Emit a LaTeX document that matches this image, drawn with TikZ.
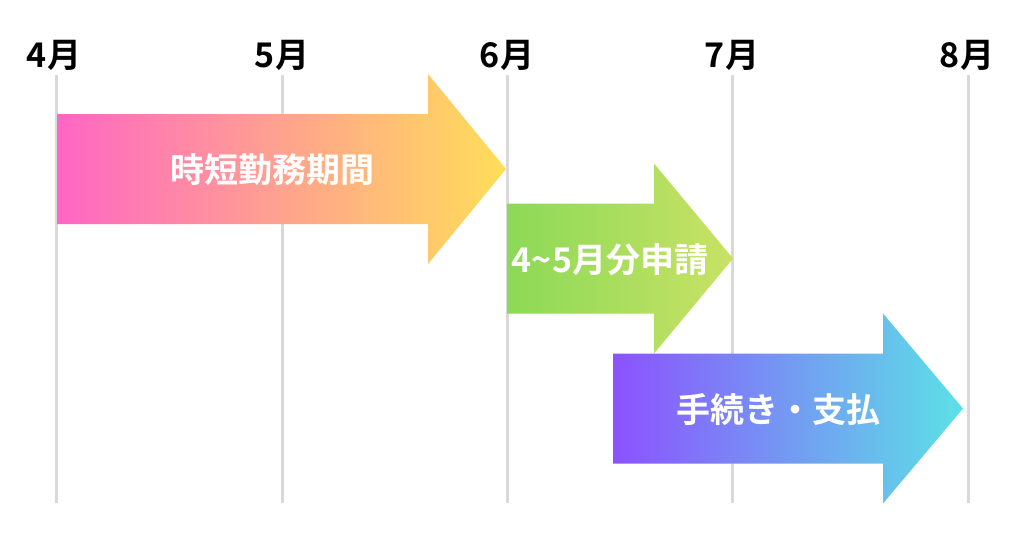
\documentclass[tikz,border=0pt]{standalone}
\usepackage{fontspec}
\newfontfamily\jpfont{Noto Sans CJK JP}[BoldFont={Noto Sans CJK JP Bold}]
\usepackage{xcolor}
\definecolor{GridGray}{HTML}{D9D9D9}
\definecolor{ShortPink}{HTML}{FF66C4}
\definecolor{ShortYellow}{HTML}{FFDE59}
\definecolor{ClaimGreen}{HTML}{8CD957}
\definecolor{ClaimLime}{HTML}{C9E265}
\definecolor{PayPurple}{HTML}{8C52FF}
\definecolor{PayCyan}{HTML}{5CE1E6}
\tikzset{
	month/.style={anchor=base,font=\jpfont\bfseries\fontsize{34}{39}\selectfont,text=black,inner sep=0pt},
	monthline/.style={GridGray,line width=3pt},
	phase/.style={font=\jpfont\bfseries\fontsize{34}{39}\selectfont,text=white,inner sep=0pt}
}

\begin{document}
\begin{tikzpicture}[x=1pt,y=-1pt]
		\useasboundingbox[fill=white] (0,0) rectangle (1024,538);
		\def\body{55} % half height of arrow body
		\def\head{95} % half height of arrow head
		
		% month grid
		\coordinate (apr) at (56,75);  \coordinate (aprb) at (56,503);
		\coordinate (may) at (282,75); \coordinate (mayb) at (282,503);
		\coordinate (jun) at (507,75); \coordinate (junb) at (507,503);
		\coordinate (jul) at (732,75); \coordinate (julb) at (732,503);
		\coordinate (aug) at (968,75); \coordinate (augb) at (968,503);
		\draw[monthline] (apr) -- (aprb);
		\draw[monthline] (may) -- (mayb);
		\draw[monthline] (jun) -- (junb);
		\draw[monthline] (jul) -- (julb);
		\draw[monthline] (aug) -- (augb);
		\node[month] (aprl) at (54,67) {4月};
		\node[month] (mayl) at (282,67) {5月};
		\node[month] (junl) at (507,67) {6月};
		\node[month] (jull) at (732,67) {7月};
		\node[month] (augl) at (967,67) {8月};
		
		% 時短勤務期間
		\shade[left color=ShortPink,right color=ShortYellow] (57,169-\body) -- (428,169-\body) -- (428,169-\head) -- (506,169) -- (428,169+\head) -- (428,169+\body) -- (57,169+\body) -- cycle;
		\node[phase] (short) at (272,170) {時短勤務期間};
		
		% 申請
		\shade[left color=ClaimGreen,right color=ClaimLime] (507,258.5-\body) -- (654,258.5-\body) -- (654,258.5-\head) -- (733,258.5) -- (654,258.5+\head) -- (654,258.5+\body) -- (507,258.5+\body) -- cycle;
		\node[phase] (claim) at (610,260) {4\string~5月分申請};
		
		% 支払
		\shade[left color=PayPurple,right color=PayCyan] (613,408.5-\body) -- (883,408.5-\body) -- (883,408.5-\head) -- (963,408.5) -- (883,408.5+\head) -- (883,408.5+\body) -- (613,408.5+\body) -- cycle;
		\node[phase] (pay) at (778,410) {手続き・支払};
		
	\end{tikzpicture}
\end{document}
